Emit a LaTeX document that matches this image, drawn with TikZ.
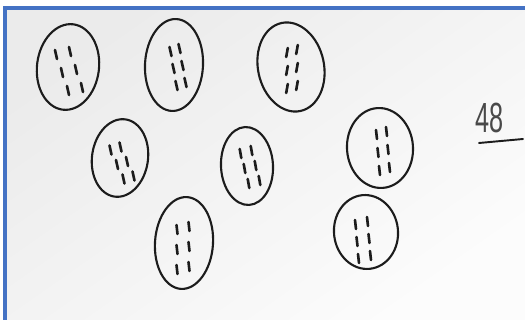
\documentclass[tikz,border=0pt]{standalone}
\usepackage{fontspec}
\setmainfont{Liberation Sans}
\usetikzlibrary{positioning}
\definecolor{cFrame}{RGB}{68,114,196}
\definecolor{cPaper}{RGB}{235,235,235}
\definecolor{cPaperLight}{RGB}{252,252,252}
\definecolor{cInk}{RGB}{28,28,28}
\tikzset{
	pod/.style   ={draw=cInk, line width=1.2pt},
	tally/.style ={draw=cInk, line width=1.5pt, line cap=round},
	total/.style ={font=\fontsize{24}{24}\selectfont, text=cInk!80, inner sep=0pt},
	frame/.style ={draw=cFrame, line width=1.8pt},
}

\begin{document}
\begin{tikzpicture}[x=0.02cm, y=-0.02cm]
	\useasboundingbox (0,0) rectangle (525,320);
	\shade[top color=cPaper, bottom color=cPaperLight, shading angle=35] (5,8) rectangle (525,320);
	% the eight groups: centre, half axes, tilt
	\foreach \cx/\cy/\rx/\ry/\tilt in {68/67/31/43/-7, 174/65/29/46/-3, 291/67/33/45/12, 120/158/28/39/-8, 247/166/26/39/3, 380/148/33/40/4, 184/243/29/46/-4, 366/232/32/37/6}
		\draw[pod, rotate around={\tilt:(\cx,\cy)}] (\cx,\cy) ellipse ({\rx} and {\ry});
	% six strokes in each group
	\foreach \tx/\ty/\sh/\dx/\dy/\ln in {69/71/6/14/18/1, 178/67/3/9/17/1, 292/69/0/10/18/-0.8, 122/163/6.5/10/14.5/1, 250/167/4/11/15/0.8, 383/151/1.5/10/18/0.5, 183/248/0/12/20/0.5, 363/240/1.5/12/17/0.5}
		\foreach \r in {-1,0,1}
			\foreach \c in {-1,1}
				\draw[tally] ({\tx+\r*\sh+\c*\dx/2-\ln}, {\ty+\r*\dy-\c*1.5-4.5}) -- ++({2*\ln}, 9);
	\node[total] (n48) at (490,118) {\scalebox{0.6}[1]{48}};
	\draw[tally, line width=1.1pt] (479,143) -- (523,139);
	\draw[frame] (5,320) -- (5,8) -- (525,8);
\end{tikzpicture}
\end{document}
